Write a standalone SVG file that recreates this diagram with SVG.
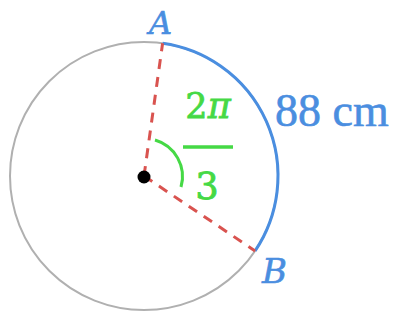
<svg xmlns="http://www.w3.org/2000/svg" width="400" height="320" viewBox="0 0 400 320">
<style>
.lbl{font-family:"DejaVu Serif","Liberation Serif",serif;fill:#4a8ee0;stroke:#4a8ee0;stroke-width:0.6}
.it{font-style:italic}
.frac{font-family:"DejaVu Serif","Liberation Serif",serif;fill:#45d945;stroke:#45d945;stroke-width:0.8}
</style>
<rect width="400" height="320" fill="#ffffff"/>
<g id="circle">
<circle cx="144" cy="176" r="134" fill="none" stroke="#b0b0b0" stroke-width="2"/>
</g>
<g id="connectors">
<path d="M162.6,43.3 A134,134 0 0 1 255.1,250.9" fill="none" stroke="#4a8ee0" stroke-width="3"/>
<line x1="144" y1="176" x2="162.6" y2="43.3" stroke="#d9534f" stroke-width="3" stroke-dasharray="10,8"/>
<line x1="144" y1="176" x2="255.1" y2="250.9" stroke="#d9534f" stroke-width="3" stroke-dasharray="10,8"/>
<path d="M155,140 A38,38 0 0 1 181,187" fill="none" stroke="#45d945" stroke-width="3"/>
</g>
<g id="center">
<circle cx="144" cy="177" r="6.5" fill="#000"/>
</g>
<g id="labelA"><text class="lbl it" x="149" y="34" font-size="32">A</text></g>
<g id="labelB"><text class="lbl it" x="262" y="283" font-size="34">B</text></g>
<g id="arclen"><text class="lbl" x="275" y="126" style="font-family:'Liberation Serif',serif" font-size="46">88 cm</text></g>
<g id="angle">
<text class="frac" x="208" y="118" font-size="35" text-anchor="middle">2<tspan font-style="italic">π</tspan></text>
<line x1="183" y1="147" x2="233" y2="147" stroke="#45d945" stroke-width="3.5"/>
<text class="frac" x="207" y="199" font-size="37" text-anchor="middle">3</text>
</g>
</svg>
